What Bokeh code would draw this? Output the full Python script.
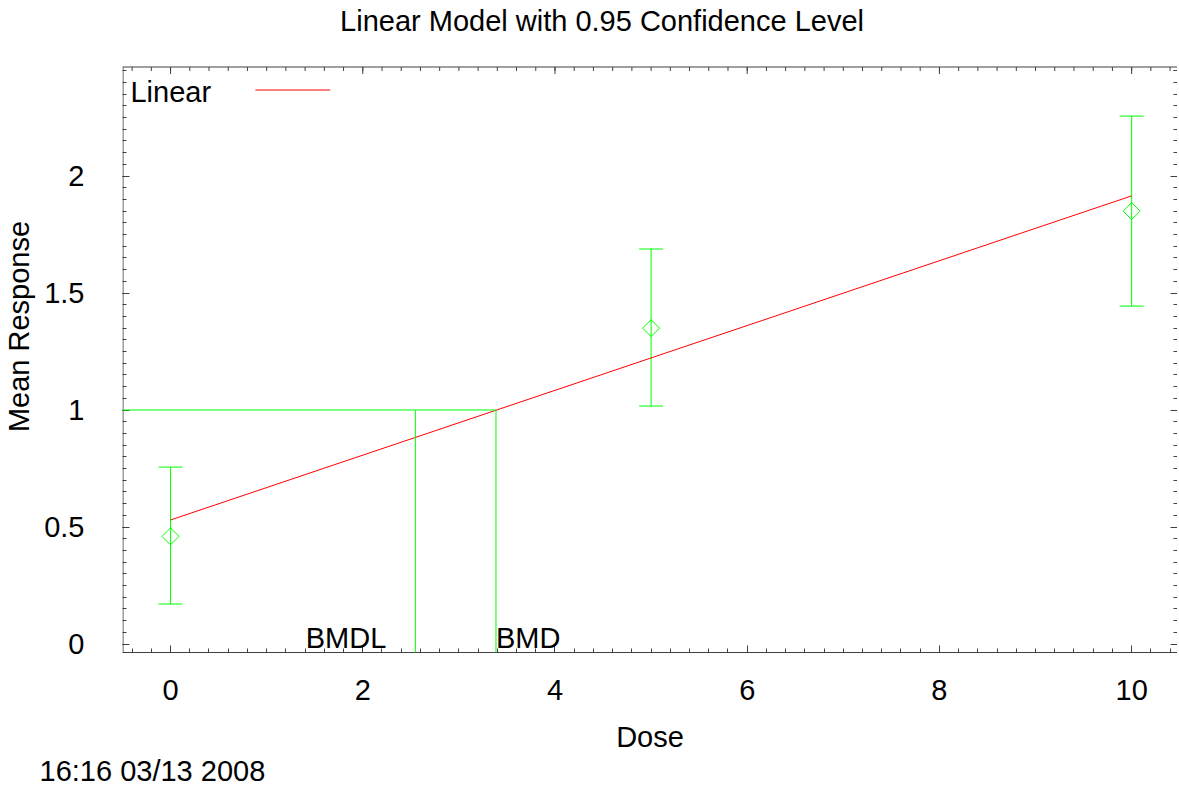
import numpy as np
from bokeh.plotting import figure
from bokeh.models import (Range1d, LinearAxis, FixedTicker, Label, Whisker, TeeHead,
                          ColumnDataSource, Title)
from bokeh.embed import file_html
from bokeh.resources import INLINE

# ---------------- data ----------------
dose = [0, 5, 10]
mean_response = [0.46, 1.35, 1.85]
ci_lower = [0.171, 1.017, 1.444]
ci_upper = [0.756, 1.688, 2.256]
fit_dose = [0, 10]
fit_response = [0.530, 1.915]
bmr = 1.0
bmd = 3.386
bmdl = 2.547
x_major_ticks = [0, 2, 4, 6, 8, 10]
x_minor_ticks = [round(-0.4 + 0.2 * i, 1) for i in range(55)]
y_major_ticks = [0, 0.5, 1, 1.5, 2]
y_minor_ticks = [round(0.05 * i, 2) for i in range(50)]
title_text = "Linear Model with 0.95 Confidence Level"
x_label = "Dose"
y_label = "Mean Response"
legend_label = "Linear"
timestamp = "16:16 03/13 2008"

# ---------------- styling / layout ----------------
FONT = "Liberation Sans"
FS = "29px"
GREEN = "#00ff00"
RED = "#ff0000"
AXIS = "#404040"

OFFX, OFFY = 2, 1            # observed page offset of the canvas
PXX, PXY = 96.2, 234.0       # pixels per data unit
W, H = 1177, 790
LEFT, BOTTOM = 121, 138
FW, FH = W - LEFT, H - BOTTOM
BOX_TOP = 66                 # canvas y of the plot box's top border
XMIN = -0.5
XMAX = XMIN + FW / PXX
YMIN = -(FH - 643.5) / PXY   # y = 0 sits on canvas row 643.5
YMAX = YMIN + FH / PXY
Y_BOX = YMIN + (FH - BOX_TOP - 0.5) / PXY   # data y of the top border
X_BOX = XMIN + 0.5 / PXX                    # data x of the left border

def px_x(page_x):
    return XMIN + (page_x - OFFX - LEFT) / PXX

def px_y(page_y):
    return YMIN + (OFFY + FH - page_y) / PXY

p = figure(width=W, height=H, output_backend="svg", toolbar_location=None,
           x_range=Range1d(XMIN, XMAX), y_range=Range1d(YMIN, YMAX),
           min_border_left=LEFT, min_border_right=0, min_border_top=0,
           min_border_bottom=BOTTOM, x_axis_location=None, y_axis_location=None)
p.outline_line_color = None
p.xgrid.visible = False
p.ygrid.visible = False
p.background_fill_color = "white"
p.border_fill_color = "white"

def style_axis(ax, ticks, minor, line=True):
    ax.ticker = FixedTicker(ticks=ticks, minor_ticks=minor)
    ax.axis_line_color = AXIS if line else None
    ax.axis_line_width = 1
    ax.major_tick_line_color = AXIS
    ax.minor_tick_line_color = AXIS
    ax.major_tick_in = 7
    ax.major_tick_out = 0
    ax.minor_tick_in = 4
    ax.minor_tick_out = 0
    ax.major_label_text_font = FONT
    ax.major_label_text_font_size = FS
    ax.major_label_text_color = "black"
    ax.axis_label_text_font = FONT
    ax.axis_label_text_font_size = FS
    ax.axis_label_text_font_style = "normal"
    ax.axis_label_text_color = "black"

def mirror_axis(ticks, length):
    # label-free axis: only "minor" ticks, so no tick labels are produced
    ax = LinearAxis(ticker=FixedTicker(ticks=[], minor_ticks=ticks))
    ax.axis_line_color = None
    ax.major_tick_line_color = None
    ax.minor_tick_line_color = AXIS
    ax.minor_tick_in = length
    ax.minor_tick_out = 0
    ax.major_tick_in = 0
    ax.major_tick_out = 0
    ax.major_label_standoff = 0
    return ax

xb = LinearAxis()
style_axis(xb, x_major_ticks, x_minor_ticks)
xb.major_label_standoff = 27
xb.axis_label = x_label
xb.axis_label_standoff = 18
p.add_layout(xb, "below")

yl = LinearAxis()
style_axis(yl, y_major_ticks, y_minor_ticks, line=False)
yl.major_label_standoff = 38
yl.axis_label = y_label
yl.axis_label_standoff = 6
p.add_layout(yl, "left")

p.add_layout(mirror_axis(y_minor_ticks, 4), "right")
p.add_layout(mirror_axis(y_major_ticks, 7), "right")

# plot box: left and top borders, with inward top ticks
p.segment(x0=[X_BOX], y0=[YMIN], x1=[X_BOX], y1=[Y_BOX], line_color=AXIS, line_width=1)
p.segment(x0=[XMIN], y0=[Y_BOX], x1=[XMAX], y1=[Y_BOX], line_color=AXIS, line_width=1)
p.segment(x0=x_minor_ticks, y0=[Y_BOX] * len(x_minor_ticks), x1=x_minor_ticks,
          y1=[Y_BOX - 4 / PXY] * len(x_minor_ticks), line_color=AXIS, line_width=1)
p.segment(x0=x_major_ticks, y0=[Y_BOX] * len(x_major_ticks), x1=x_major_ticks,
          y1=[Y_BOX - 7 / PXY] * len(x_major_ticks), line_color=AXIS, line_width=1)

# timestamp under the x-axis title
p.add_layout(Title(text=timestamp, align="left", offset=-83, standoff=-6,
                   text_font=FONT, text_font_size=FS, text_font_style="normal",
                   text_color="black"), "below")

# fitted linear model
p.line(fit_dose, fit_response, line_color=RED, line_width=1)

# BMR / BMD / BMDL lines (drawn over the axis ticks, as in the reference)
p.segment(x0=[XMIN], y0=[bmr], x1=[bmd], y1=[bmr], line_color=GREEN, line_width=1,
          level="overlay")
p.segment(x0=[bmdl, bmd], y0=[bmr, bmr], x1=[bmdl, bmd], y1=[YMIN, YMIN],
          line_color=GREEN, line_width=1, level="overlay")

# error bars
src = ColumnDataSource(dict(base=dose, upper=ci_upper, lower=ci_lower))
wh = Whisker(source=src, base="base", upper="upper", lower="lower", dimension="height",
             line_color=GREEN, line_width=1,
             upper_head=TeeHead(size=24, line_color=GREEN, line_width=1),
             lower_head=TeeHead(size=24, line_color=GREEN, line_width=1))
p.add_layout(wh)

# mean markers (open diamonds)
p.scatter(dose, mean_response, marker="square", angle=np.pi / 4, size=12,
          fill_color=None, line_color=GREEN, line_width=1)

def lab(**kw):
    return Label(text_font=FONT, text_font_size=FS, text_color="black",
                 text_baseline="middle", **kw)

# BMD / BMDL text
p.add_layout(lab(x=bmdl, y=0, text="BMDL", text_align="right", x_offset=-29, y_offset=6))
p.add_layout(lab(x=bmd, y=0, text="BMD", text_align="left", x_offset=0, y_offset=6))

# legend (text followed by line sample)
p.add_layout(lab(x=px_x(131), y=px_y(92), text=legend_label, text_align="left"))
p.line([px_x(256), px_x(331)], [px_y(90.5), px_y(90.5)], line_color=RED, line_width=1)

# chart title
p.add_layout(lab(x=px_x(603), y=px_y(21), text=title_text, text_align="center"))

open("out.html", "w").write(file_html(p, INLINE))
